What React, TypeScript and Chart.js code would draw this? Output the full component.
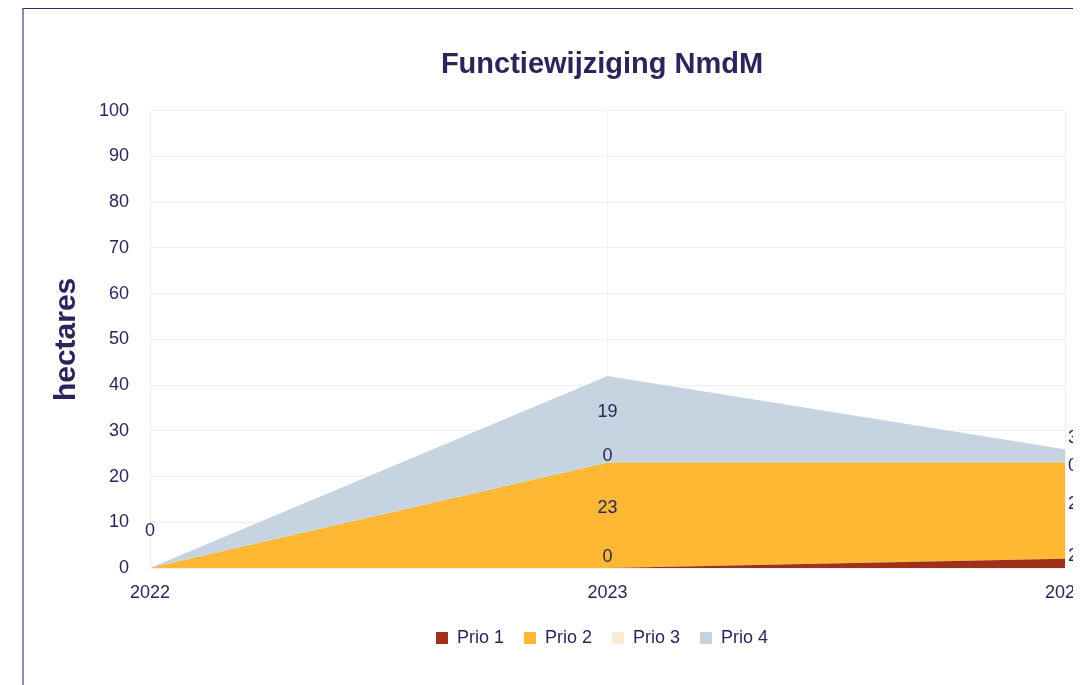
import React, { useEffect, useRef } from "react";
import { Chart, registerables } from "chart.js";

Chart.register(...registerables);

const categories = ["2022", "2023", "2024"];
const prio1 = [0, 0, 2];
const prio2 = [0, 23, 21];
const prio3 = [0, 0, 0];
const prio4 = [0, 19, 3];
const seriesNames = ["Prio 1", "Prio 2", "Prio 3", "Prio 4"];
const seriesColors = ["#9f301b", "#ffb833", "#fbebd4", "#c6d4e1"];
const yTicks = [0, 10, 20, 30, 40, 50, 60, 70, 80, 90, 100];

const TEXT = "#28265b";
const GRID = "#edf0f4";
const FONT = "'Liberation Sans', Arial, sans-serif";

const seriesValues = [prio1, prio2, prio3, prio4];

const stackLabels = {
  id: "stackLabels",
  afterDatasetsDraw(chart: any) {
    const { ctx, chartArea, scales } = chart;
    const xs = scales.x;
    const ys = scales.y;
    ctx.save();
    ctx.font = `18px ${FONT}`;
    ctx.fillStyle = TEXT;
    ctx.textBaseline = "middle";
    const n = categories.length;
    for (let j = 0; j < n; j++) {
      const px = xs.getPixelForValue(j);
      const isLast = j === n - 1;
      ctx.textAlign = isLast ? "left" : "center";
      const tx = isLast ? px + 3 : px;
      const vals = seriesValues.map((s) => s[j]);
      if (vals.every((v) => v === 0)) {
        ctx.fillText("0", tx, ys.getPixelForValue(0) - 37);
        continue;
      }
      let base = 0;
      const items = vals.map((v) => {
        const mid = base + v / 2;
        base += v;
        return {
          text: String(v),
          y: Math.min(ys.getPixelForValue(mid) - 7, chartArea.bottom - 11),
        };
      });
      const gap = 28;
      for (let i = 1; i < items.length; i++) {
        const a = items[i - 1];
        const b = items[i];
        if (a.y - b.y < gap) {
          const m = (a.y + b.y) / 2;
          a.y = m + gap / 2;
          b.y = m - gap / 2;
        }
      }
      items.forEach((it) => ctx.fillText(it.text, tx, it.y));
    }
    ctx.restore();
  },
};

export default function App() {
  const ref = useRef<HTMLCanvasElement | null>(null);

  useEffect(() => {
    if (!ref.current) return;
    const chart = new Chart(ref.current, {
      type: "line",
      data: {
        labels: categories,
        datasets: seriesValues.map((vals, i) => ({
          label: seriesNames[i],
          data: vals,
          backgroundColor: seriesColors[i],
          borderColor: "rgba(0,0,0,0)",
          borderWidth: 0,
          pointRadius: 0,
          pointHoverRadius: 0,
          tension: 0,
          fill: i === 0 ? "origin" : "-1",
        })),
      },
      options: {
        responsive: false,
        animation: false,
        devicePixelRatio: 1,
        layout: { padding: { left: 20, right: 0, top: 0, bottom: 28 } },
        plugins: {
          title: {
            display: true,
            text: "Functiewijziging NmdM",
            color: TEXT,
            font: { family: FONT, size: 29, weight: "bold" },
            padding: { top: 39, bottom: 28 },
          },
          legend: {
            position: "bottom",
            labels: {
              color: TEXT,
              font: { family: FONT, size: 18 },
              boxWidth: 12,
              boxHeight: 12,
              padding: 20,
              generateLabels: (chart: any) =>
                chart.data.datasets.map((ds: any, i: number) => ({
                  text: ds.label,
                  fillStyle: seriesColors[i],
                  strokeStyle: seriesColors[i],
                  lineWidth: 0,
                  hidden: false,
                  datasetIndex: i,
                  fontColor: TEXT,
                })),
            },
          },
          tooltip: { enabled: false },
        },
        scales: {
          x: {
            type: "category",
            offset: false,
            grid: { color: GRID, drawTicks: false },
            border: { color: GRID },
            ticks: { color: TEXT, font: { family: FONT, size: 18 }, padding: 14, maxRotation: 0 },
            afterFit: (scale: any) => {
              scale.height = 41;
            },
          },
          y: {
            stacked: true,
            min: yTicks[0],
            max: yTicks[yTicks.length - 1],
            afterBuildTicks: (scale: any) => {
              scale.ticks = yTicks.map((v) => ({ value: v }));
            },
            grid: { color: GRID, drawTicks: false },
            border: { color: GRID },
            ticks: { color: TEXT, font: { family: FONT, size: 18 }, padding: 21 },
            title: {
              display: true,
              text: "hectares",
              color: TEXT,
              font: { family: FONT, size: 30, weight: "bold" },
              padding: { top: 5, bottom: 0 },
            },
            afterFit: (scale: any) => {
              scale.width = 106;
            },
          },
          y2: {
            position: "right",
            display: true,
            grid: { display: false, drawTicks: false },
            border: { display: false },
            ticks: { display: false },
            afterFit: (scale: any) => {
              scale.width = 95;
            },
          },
        },
      },
      plugins: [stackLabels],
    } as any);
    return () => chart.destroy();
  }, []);

  return (
    <div
      style={{
        marginLeft: 14,
        borderLeft: "2px solid #8f8cab",
        borderTop: "1px solid #2b2a5e",
        width: 1136,
        height: 676,
      }}
    >
      <canvas ref={ref} width={1136} height={676} style={{ display: "block" }} />
    </div>
  );
}
